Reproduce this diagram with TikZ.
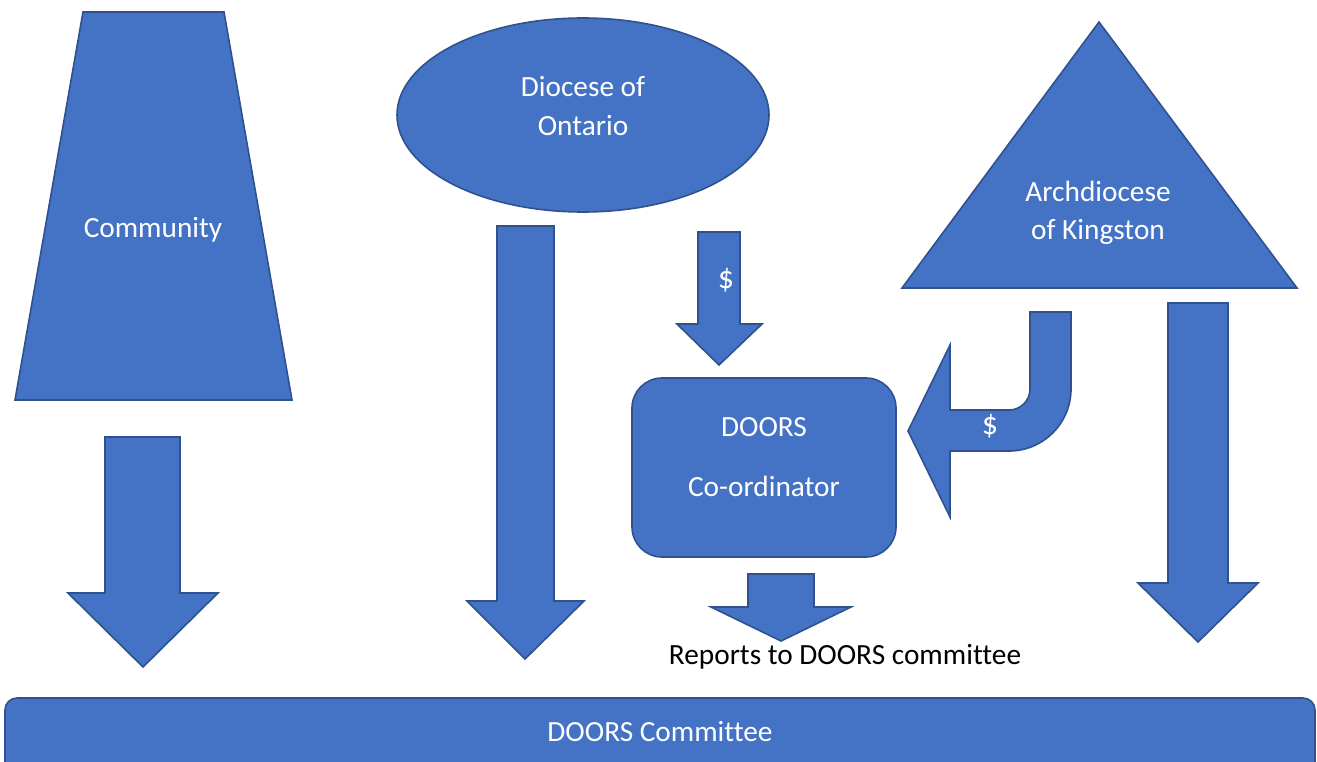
\documentclass[tikz,border=0pt]{standalone}
\usepackage{fontspec}
\setmainfont[Ligatures=NoCommon]{Carlito}
\usetikzlibrary{shapes.geometric}
\definecolor{boxfill}{HTML}{4472C4}
\definecolor{boxline}{HTML}{2F528F}
\tikzset{
  blockshape/.style={fill=boxfill, draw=boxline, line width=1.6bp, line join=miter},
  wlabel/.style={text=white, font=\fontsize{29.3bp}{35bp}\selectfont, inner sep=0pt, anchor=base},
  blabel/.style={text=black, font=\fontsize{29.3bp}{35bp}\selectfont, inner sep=0pt, anchor=base},
}
\begin{document}
\begin{tikzpicture}[x=1bp,y=-1bp]
\useasboundingbox (0,0) rectangle (1317,761);
% Community trapezoid
\draw[blockshape] (83,12) -- (224,12) -- (292,400) -- (15,400) -- cycle;
\node[wlabel] (community) at (153,237) {Community};
% arrow below community
\draw[blockshape] (105,437) -- (180,437) -- (180,593) -- (218,593) -- (143,667) -- (68,593) -- (105,593) -- cycle;
% Diocese ellipse
\node[blockshape, ellipse, minimum width=372bp, minimum height=194bp, inner sep=0pt] (diocese) at (583,115) {};
\node[wlabel] (dio1) at (583,96) {Diocese of};
\node[wlabel] (dio2) at (583,135) {Ontario};
% long arrow from diocese
\draw[blockshape] (497,226) -- (554,226) -- (554,601) -- (584,601) -- (525,659) -- (467,601) -- (497,601) -- cycle;
% $ arrow
\draw[blockshape] (698,232) -- (740,232) -- (740,324) -- (762,324) -- (719,365) -- (677,324) -- (698,324) -- cycle;
\node[wlabel, font=\fontsize{32bp}{35bp}\selectfont] (dollar1) at (726,288) {\$};
% DOORS Co-ordinator
\draw[blockshape, rounded corners=30bp] (632,378) rectangle (896,557);
\node[wlabel] (coord1) at (764,436) {DOORS};
\node[wlabel] (coord2) at (764,496) {Co-ordinator};
% small arrow below coordinator
\draw[blockshape] (748,574) -- (814,574) -- (814,607) -- (851,607) -- (781,641) -- (711,607) -- (748,607) -- cycle;
\node[blabel] (reports) at (845,664) {Reports to DOORS committee};
% Archdiocese triangle
\draw[blockshape] (1099,22) -- (1297,288) -- (902,288) -- cycle;
\node[wlabel] (arch1) at (1098,201) {Archdiocese};
\node[wlabel] (arch2) at (1098,239) {of Kingston};
% right long arrow
\draw[blockshape] (1168,303) -- (1228,303) -- (1228,583) -- (1258,583) -- (1198,642) -- (1138,583) -- (1168,583) -- cycle;
% bent arrow
\draw[blockshape] (1030,312) -- (1071,312) -- (1071,389)
  arc[start angle=0, end angle=-90, radius=62bp] -- (950,451) -- (950,517) -- (908,431) -- (950,345) -- (950,410) -- (1009,410)
  arc[start angle=-90, end angle=0, radius=21bp] -- cycle;
\node[wlabel, font=\fontsize{32bp}{35bp}\selectfont] (dollar2) at (990,434) {\$};
% DOORS Committee bar
\draw[blockshape, rounded corners=12bp] (5,775) -- (5,698) -- (1315,698) -- (1315,775);
\node[wlabel] (committee) at (660,741) {DOORS Committee};
\end{tikzpicture}
\end{document}
